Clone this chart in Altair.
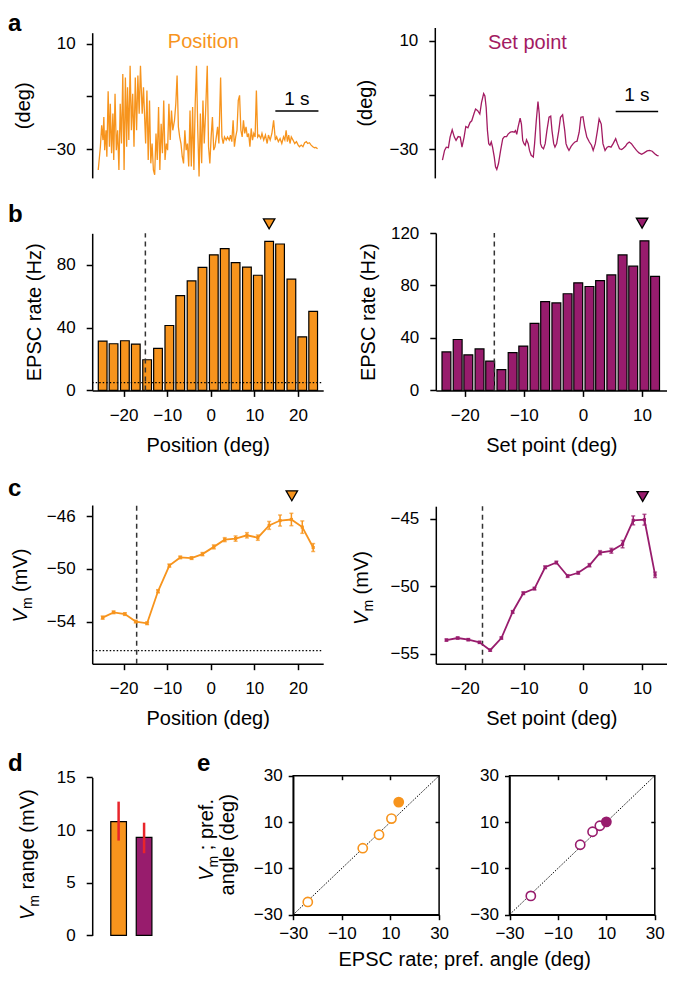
import altair as alt
import pandas as pd

FONT = "Liberation Sans"
ORANGE = "#F7941D"
PURPLE = "#981C6D"
PURPLE_TRACE = "#A31B62"
RED = "#E8252B"
DASH_GREY = "#333333"

# ---------------- (a) whisker traces ----------------
pos_t = [0.00, 0.05, 0.08, 0.11, 0.13, 0.15, 0.18, 0.20, 0.23, 0.26, 0.28, 0.31, 0.34, 0.36, 0.39, 0.42, 0.45, 0.48,
         0.51, 0.54, 0.57, 0.60, 0.63, 0.66, 0.68, 0.71, 0.74, 0.77, 0.80, 0.83, 0.86, 0.89, 0.92, 0.95, 0.98, 1.02,
         1.05, 1.10, 1.13, 1.16, 1.19, 1.22, 1.25, 1.28, 1.31, 1.34, 1.37, 1.40, 1.43, 1.46, 1.49, 1.52, 1.55, 1.58,
         1.61, 1.64, 1.67, 1.70, 1.73, 1.77, 1.80, 1.83, 1.86, 1.89, 1.92, 1.95, 1.98, 2.01, 2.04, 2.07, 2.10, 2.13,
         2.16, 2.19, 2.22, 2.25, 2.28, 2.31, 2.34, 2.37, 2.40, 2.43, 2.46, 2.49, 2.53, 2.56, 2.59, 2.62, 2.65, 2.68,
         2.71, 2.74, 2.77, 2.80, 2.84, 2.87, 2.90, 2.93, 2.97, 3.00, 3.04, 3.07, 3.10, 3.13, 3.16, 3.19, 3.22, 3.25,
         3.28, 3.31, 3.34, 3.37, 3.40, 3.43, 3.46, 3.49, 3.52, 3.55, 3.58, 3.61, 3.64, 3.67, 3.70, 3.73, 3.77, 3.80,
         3.84, 3.88, 3.92, 3.95, 3.99, 4.03, 4.07, 4.11, 4.14, 4.18, 4.22, 4.26, 4.30, 4.33, 4.36, 4.39, 4.42, 4.45,
         4.48, 4.52, 4.56, 4.60, 4.64, 4.67, 4.71, 4.75, 4.79, 4.83, 4.86, 4.90, 4.94, 4.98, 5.02, 5.05, 5.09]
pos_deg = [-37.8, -29.0, -20.9, -26.5, -17.8, -30.3, -22.8, -32.8, -8.0, -29.0, -12.8, -31.5, -16.5, -34.0, -9.0,
           -30.3, -22.8, -37.8, -12.8, -27.8, -1.5, -37.8, -2.8, -29.0, -6.5, -26.5, 1.6, -22.8, -9.0, -29.0, -2.8,
           -22.8, -2.1, -16.5, 1.6, -16.5, -6.5, -27.8, -7.8, -34.0, -11.5, -35.3, -27.8, -37.8, -39.6, -24.0, -34.0,
           -14.0, -37.8, -20.3, -31.5, -11.5, -34.0, -27.8, -30.3, -12.8, -26.5, -15.3, -22.8, -19.0, -12.8, -2.1,
           -21.5, -25.3, -27.8, -32.8, -35.3, -22.8, -30.3, -27.8, -36.5, -15.3, -36.5, -14.0, -37.8, -12.8, 1.6,
           -22.8, -40.3, -16.5, -35.3, -11.5, -27.8, -16.5, 1.6, -29.0, -35.3, -25.3, -17.8, -30.3, -29.0, -25.3,
           -21.5, -27.8, -2.8, -25.3, -27.8, -25.3, -26.5, -25.3, -26.5, -24.6, -27.1, -19.0, -29.0, -25.3, -22.8,
           -11.5, -9.6, -22.8, -25.3, -19.0, -24.0, -21.5, -25.3, -24.0, -29.0, -22.1, -26.5, -24.0, -25.3, -7.8,
           -25.3, -24.6, -25.9, -24.0, -26.5, -24.6, -27.8, -24.6, -26.5, -24.0, -19.0, -26.5, -25.3, -27.1, -25.9,
           -27.8, -25.3, -26.5, -22.8, -27.1, -24.6, -27.8, -25.3, -26.5, -27.8, -27.1, -28.4, -29.0, -28.4, -29.0,
           -27.5, -27.1, -27.8, -27.5, -28.4, -29.0, -29.4, -29.3, -29.8]
sp_t = [0.00, 0.05, 0.09, 0.14, 0.18, 0.23, 0.28, 0.32, 0.37, 0.42, 0.46, 0.51, 0.55, 0.60, 0.65, 0.69, 0.74, 0.78,
        0.83, 0.88, 0.92, 0.97, 1.00, 1.03, 1.06, 1.09, 1.12, 1.15, 1.18, 1.22, 1.25, 1.28, 1.32, 1.37, 1.42, 1.46,
        1.51, 1.55, 1.60, 1.65, 1.69, 1.72, 1.75, 1.78, 1.83, 1.86, 1.89, 1.92, 1.95, 1.98, 2.02, 2.05, 2.09, 2.14,
        2.17, 2.21, 2.25, 2.28, 2.31, 2.34, 2.38, 2.42, 2.46, 2.51, 2.55, 2.58, 2.62, 2.65, 2.69, 2.74, 2.78, 2.83,
        2.88, 2.91, 2.94, 2.98, 3.03, 3.08, 3.12, 3.17, 3.22, 3.26, 3.31, 3.35, 3.40, 3.46, 3.51, 3.55, 3.60, 3.65,
        3.69, 3.74, 3.78, 3.83, 3.88, 3.92, 3.97, 4.02, 4.08, 4.12, 4.17, 4.22, 4.26, 4.31, 4.35, 4.40, 4.45, 4.51,
        4.57, 4.63, 4.69, 4.75, 4.82, 4.88, 4.94, 5.00, 5.05, 5.09]
sp_deg = [-34.0, -30.4, -29.2, -29.4, -25.5, -22.8, -25.5, -26.7, -25.3, -25.5, -29.2, -25.5, -21.6, -22.1, -20.1,
          -19.5, -17.0, -15.2, -15.8, -17.0, -12.8, -9.5, -10.4, -14.6, -23.1, -27.9, -28.5, -27.3, -29.2, -32.8,
          -36.4, -37.4, -35.2, -30.4, -26.1, -25.3, -25.3, -24.3, -23.7, -23.5, -23.7, -23.1, -24.5, -21.9, -18.5,
          -20.7, -26.7, -27.9, -28.5, -26.5, -27.9, -30.4, -32.2, -32.8, -27.9, -19.5, -12.4, -17.0, -27.9, -29.2,
          -29.8, -27.9, -23.1, -18.2, -17.8, -23.1, -27.9, -29.2, -27.9, -23.1, -18.2, -17.3, -23.1, -27.9, -29.2,
          -30.4, -28.9, -27.9, -27.3, -27.0, -23.7, -18.2, -18.0, -21.9, -25.5, -27.3, -28.5, -30.4, -27.9, -23.1,
          -18.8, -20.7, -27.9, -30.4, -29.2, -28.9, -29.2, -27.9, -26.1, -27.9, -29.8, -30.1, -29.6, -28.9, -27.9,
          -27.3, -27.9, -29.2, -30.4, -31.3, -31.8, -31.3, -30.6, -30.4, -30.7, -31.6, -32.2, -32.4]

# ---------------- (b) EPSC rate tuning ----------------
pos_bins = [-24.8, -22.3, -19.7, -17.2, -14.6, -12.1, -9.5, -7.0, -4.4, -1.9, 0.7, 3.2, 5.7, 8.3, 10.8, 13.4,
            15.9, 18.5, 21.0, 23.5]
epsc_pos = [31.4, 29.7, 31.6, 29.5, 19.5, 26.8, 41.3, 60.3, 69.7, 78.3, 86.3, 90.3, 81.3, 78.5, 73.3, 94.9, 93.2,
            70.8, 34.1, 50.3]
sp_bins = [-23.1, -21.2, -19.4, -17.5, -15.7, -13.8, -11.9, -10.1, -8.2, -6.4, -4.5, -2.6, -0.8, 1.1, 2.9, 4.8,
           6.7, 8.5, 10.4, 12.2]
epsc_sp = [29.3, 38.8, 27.1, 31.6, 22.3, 15.8, 28.8, 33.8, 51.1, 67.7, 66.7, 73.7, 82.0, 79.2, 83.7, 88.0, 103.3,
           94.7, 114.0, 87.0]

# ---------------- (c) Vm tuning ----------------
vm_pos = [-53.7, -53.3, -53.43, -54.0, -54.13, -51.7, -49.75, -49.13, -49.18, -48.88, -48.33, -47.78, -47.7,
          -47.45, -47.63, -46.7, -46.33, -46.25, -46.83, -48.38]
vm_pos_err = [0.12, 0.1, 0.1, 0.1, 0.1, 0.12, 0.12, 0.1, 0.1, 0.12, 0.15, 0.15, 0.2, 0.2, 0.2, 0.3, 0.42, 0.47,
              0.47, 0.3]
vm_sp = [-53.98, -53.83, -53.95, -54.15, -54.73, -53.83, -51.9, -50.51, -50.17, -48.59, -48.24, -49.24, -49.0,
         -48.44, -47.51, -47.37, -46.88, -45.12, -45.07, -49.15]
vm_sp_err = [0.08, 0.08, 0.08, 0.08, 0.08, 0.08, 0.1, 0.1, 0.1, 0.1, 0.1, 0.1, 0.1, 0.12, 0.15, 0.18, 0.27, 0.33,
             0.4, 0.2]

# ---------------- (d) Vm range ----------------
d_cond = ["Position", "Set point"]
d_mean = [10.8, 9.3]
d_lo = [9.0, 7.8]
d_hi = [12.7, 10.7]

# ---------------- (e) preferred angles ----------------
e_pos_epsc = [13.4, 10.4, 5.3, -1.4, -24.0]
e_pos_vm = [18.6, 11.5, 4.5, -1.3, -24.5]
e_sp_epsc = [10.0, 7.3, 4.3, -0.8, -21.2]
e_sp_vm = [10.1, 8.4, 5.8, 0.2, -21.9]
e_this_cell = [True, False, False, False, False]

# thresholds
dash_b = -15
dash_c = -17
dot_b = 5
dot_c = -56.2

# ---------------- layout (figure coordinates -> chart pixels) ----------------
W, H = 659, 966
SX, SY = 0.979, 0.988


def cx(rx):
    return round((rx - 2) * SX, 1)


def cy(ry):
    return round((ry - 3) * SY, 1)


# panel boxes: left, right, top, bottom
BOX = {
    "aL": (88, 320, 28, 175), "aR": (438, 667, 22.7, 175),
    "bL": (88, 324, 231, 390), "bR": (439, 675, 230.7, 390),
    "cL": (88, 324, 506, 666.7), "cR": (439, 675, 507.3, 666.7),
    "d": (88, 168, 781.7, 941.7),
    "eL": (293.3, 442.3, 780, 920.7), "eR": (514.3, 662.7, 780, 920.7),
}

TITLE_FS = 20
SUB_FS = 14
# Arial/Liberation Sans advance widths (em) for the title strings
CHAR_W = {" ": 0.278, "(": 0.333, ")": 0.333, "m": 0.833, "V": 0.667, "r": 0.333, "a": 0.556, "n": 0.556,
          "g": 0.556, "e": 0.556, ";": 0.278, "p": 0.556, "f": 0.278, ".": 0.278}


def df1(**cols):
    return pd.DataFrame({k: [v] for k, v in cols.items()})


def xs(box, lo, hi):
    b = BOX[box]
    return alt.Scale(domain=[lo, hi], range=[cx(b[0]), cx(b[1])], nice=False, zero=False)


def ys(box, lo, hi):
    b = BOX[box]
    return alt.Scale(domain=[lo, hi], range=[cy(b[3]), cy(b[2])], nice=False, zero=False)


def yaxis(box, **kw):
    return alt.Axis(orient="left", offset=-cx(BOX[box][0]), **kw)


def xaxis(box, **kw):
    return alt.Axis(orient="bottom", offset=round(cy(BOX[box][3]) - H, 1), **kw)


def text_at(txt, x, y, size, angle=0, align="left", dx=0.0, dy=0.0, weight="normal", style="normal"):
    return alt.Chart(df1(k=0)).mark_text(
        text=txt, font=FONT, fontSize=size, fontWeight=weight, fontStyle=style, align=align,
        baseline="alphabetic", color="black", angle=angle, dx=round(dx, 1), dy=dy
    ).encode(x=alt.value(x), y=alt.value(y))


def letter(ch, rx, ry):
    return text_at(ch, cx(rx), cy(ry), 24, weight="bold")


def vm_title(rest, rx, ry):
    """Rotated axis title: italic V, subscript m, then the rest (leading spaces kept as offset)."""
    w_v = 0.667 * TITLE_FS
    w_m = 0.833 * SUB_FS
    w_r = sum(CHAR_W[c] for c in rest) * TITLE_FS
    lead = (len(rest) - len(rest.lstrip(" "))) * CHAR_W[" "] * TITLE_FS
    start = -(w_v + w_m + w_r) / 2
    x, y = cx(rx), cy(ry)
    return [
        text_at("V", x, y, TITLE_FS, angle=270, dx=start, style="italic"),
        text_at("m", x, y, SUB_FS, angle=270, dx=start + w_v, dy=5),
        text_at(rest.lstrip(" "), x, y, TITLE_FS, angle=270, dx=start + w_v + w_m + lead),
    ]


# ---------------- panel a ----------------
def panel_a(box, t, deg, color, name, name_xy, bar, txt_xy, xdom, ydom):
    ax = yaxis(box, title="(deg)", values=[-30, -10, 10],
               labelExpr="datum.value == -10 ? '' : datum.label", titlePadding=13)
    X = lambda f: alt.X(f, type="quantitative", scale=xs(box, *xdom), axis=None)
    Y = lambda f: alt.Y(f, type="quantitative", scale=ys(box, *ydom), axis=ax)
    trace = alt.Chart(pd.DataFrame({"x": t, "y": deg})).mark_line(
        color=color, strokeWidth=1.3).encode(x=X("x"), y=Y("y"))
    sbar = alt.Chart(df1(x=bar[0], x2=bar[1], y=bar[2])).mark_rule(
        color="black", strokeWidth=1.5).encode(x=X("x"), x2="x2:Q", y=Y("y"))
    stext = alt.Chart(df1(x=txt_xy[0], y=txt_xy[1])).mark_text(
        text="1 s", fontSize=19, align="center", baseline="alphabetic", color="black"
    ).encode(x=X("x"), y=Y("y"))
    label = alt.Chart(df1(x=name_xy[0], y=name_xy[1])).mark_text(
        text=name, fontSize=20, align="center", baseline="alphabetic", color=color
    ).encode(x=X("x"), y=Y("y"))
    return alt.layer(trace, sbar, stext, label)


aL = panel_a("aL", pos_t, pos_deg, ORANGE, "Position", (2.44, 8.25), (4.11, 5.11, -15.5), (4.61, -13.4),
             (-0.14, 5.13), (-40.8, 14.1))
aR = panel_a("aR", sp_t, sp_deg, PURPLE_TRACE, "Set point", (2.0, 7.0), (4.08, 5.08, -16.1), (4.58, -12.4),
             (-0.18, 5.10), (-40.5, 14.8))


# ---------------- panel b ----------------
def panel_b(box, bins, rate, half, color, xtitle, xdom, ydom, yvals, dash, dot, tri):
    xa = xaxis(box, title=xtitle, values=[v for v in [-20, -10, 0, 10, 20] if xdom[0] < v < xdom[1]])
    ya = yaxis(box, title="EPSC rate (Hz)", values=yvals)
    X = lambda f: alt.X(f, type="quantitative", scale=xs(box, *xdom), axis=xa)
    Y = lambda f: alt.Y(f, type="quantitative", scale=ys(box, *ydom), axis=ya)
    bars = alt.Chart(pd.DataFrame({"x": bins, "y": rate})).transform_calculate(
        x0=f"datum.x - {half}", x1=f"datum.x + {half}", y0="0"
    ).mark_bar(fill=color, stroke="black", strokeWidth=1.2).encode(
        x=X("x0"), x2="x1:Q", y=Y("y"), y2="y0:Q")
    layers = [bars]
    if dot is not None:
        layers.append(alt.Chart(df1(x=xdom[0], x2=xdom[1], y=dot)).mark_rule(
            color="black", strokeDash=[1.5, 2], strokeWidth=1.2).encode(x=X("x"), x2="x2:Q", y=Y("y")))
    layers.append(alt.Chart(df1(x=dash, y=ydom[0], y2=ydom[1])).mark_rule(
        color=DASH_GREY, strokeDash=[5, 4], strokeWidth=1.5).encode(x=X("x"), y=Y("y"), y2="y2:Q"))
    layers.append(alt.Chart(df1(x=tri[0], y=tri[1])).mark_point(
        shape="triangle-down", filled=True, fill=color, stroke="black", strokeWidth=1.3,
        size=130, opacity=1).encode(x=X("x"), y=Y("y")))
    return alt.layer(*layers)


bL = panel_b("bL", pos_bins, epsc_pos, 1.0, ORANGE, "Position (deg)", (-27.2, 25.8), (0, 100),
             [0, 40, 80], dash_b, dot_b, (e_pos_epsc[0], 106))
bR = panel_b("bR", sp_bins, epsc_sp, 0.75, PURPLE, "Set point (deg)", (-24.9, 14.2), (0, 120),
             [0, 40, 80, 120], dash_b, None, (e_sp_epsc[0], 127.5))


# ---------------- panel c ----------------
def panel_c(box, bins, vm, err, color, xtitle, xdom, ydom, yvals, dash, dot, tri):
    xa = xaxis(box, title=xtitle, values=[v for v in [-20, -10, 0, 10, 20] if xdom[0] < v < xdom[1]])
    ya = yaxis(box, title=None, values=yvals)
    X = lambda f: alt.X(f, type="quantitative", scale=xs(box, *xdom), axis=xa)
    Y = lambda f: alt.Y(f, type="quantitative", scale=ys(box, *ydom), axis=ya)
    base = alt.Chart(pd.DataFrame({"x": bins, "y": vm, "e": err})).transform_calculate(
        lo="datum.y - datum.e", hi="datum.y + datum.e")
    layers = []
    if dot is not None:
        layers.append(alt.Chart(df1(x=xdom[0], x2=xdom[1], y=dot)).mark_rule(
            color="black", strokeDash=[1.5, 2], strokeWidth=1.2).encode(x=X("x"), x2="x2:Q", y=Y("y")))
    layers.append(alt.Chart(df1(x=dash, y=ydom[0], y2=ydom[1])).mark_rule(
        color=DASH_GREY, strokeDash=[5, 4], strokeWidth=1.5).encode(x=X("x"), y=Y("y"), y2="y2:Q"))
    layers += [
        base.mark_rule(color=color, strokeWidth=1.5).encode(x=X("x"), y=Y("lo"), y2="hi:Q"),
        base.mark_tick(color=color, orient="horizontal", size=4, thickness=1.5).encode(x=X("x"), y=Y("lo")),
        base.mark_tick(color=color, orient="horizontal", size=4, thickness=1.5).encode(x=X("x"), y=Y("hi")),
        base.mark_line(color=color, strokeWidth=1.8).encode(x=X("x"), y=Y("y")),
        base.mark_point(shape="square", filled=True, size=10, opacity=1, color=color).encode(x=X("x"), y=Y("y")),
        alt.Chart(df1(x=tri[0], y=tri[1])).mark_point(
            shape="triangle-down", filled=True, fill=color, stroke="black", strokeWidth=1.3,
            size=130, opacity=1).encode(x=X("x"), y=Y("y")),
    ]
    return alt.layer(*layers)


cL = panel_c("cL", pos_bins, vm_pos, vm_pos_err, ORANGE, "Position (deg)", (-27.2, 25.8),
             (-57.2, -45.15), [-54, -50, -46], dash_c, dot_c, (e_pos_vm[0], -44.45))
cR = panel_c("cR", sp_bins, vm_sp, vm_sp_err, PURPLE, "Set point (deg)", (-24.9, 14.2),
             (-55.73, -44.07), [-55, -50, -45], dash_c, None, (e_sp_vm[0], -43.35))

# ---------------- panel d ----------------
d_df = pd.DataFrame({"c": d_cond, "y": d_mean, "lo": d_lo, "hi": d_hi})
XD = alt.X("c:N", scale=alt.Scale(domain=d_cond, range=[cx(BOX["d"][0]), cx(BOX["d"][1])],
                                  paddingInner=0.385, paddingOuter=0.73), axis=None)
yd_axis = yaxis("d", title=None, values=[0, 5, 10, 15])
YD = lambda f: alt.Y(f, type="quantitative", scale=ys("d", 0, 15), axis=yd_axis)
d_panel = alt.layer(
    alt.Chart(d_df).mark_bar(stroke="black", strokeWidth=1.2).encode(
        x=XD, y=YD("y"),
        color=alt.Color("c:N", scale=alt.Scale(domain=d_cond, range=[ORANGE, PURPLE]), legend=None)),
    alt.Chart(d_df).mark_rule(color=RED, strokeWidth=2.5).encode(x=XD, y=YD("lo"), y2="hi:Q"),
)


# ---------------- panel e ----------------
def panel_e(box, epsc, vm, color, xtitle):
    vals = [-30, -10, 10, 30]
    xkw = dict(values=vals, labelPadding=6, tickSize=5)
    if xtitle:
        xkw.update(title=xtitle, titleX=cx(468), titlePadding=8)
    else:
        xkw.update(title=None)
    ykw = dict(values=vals, labelPadding=6, tickSize=5, title=None)
    X = lambda f: alt.X(f, type="quantitative", scale=xs(box, -30, 30), axis=xaxis(box, **xkw))
    Y = lambda f: alt.Y(f, type="quantitative", scale=ys(box, -30, 30), axis=yaxis(box, **ykw))
    df = pd.DataFrame({"x": epsc, "y": vm, "cell": e_this_cell})
    diag = alt.Chart(pd.DataFrame({"x": [-30, 30], "y": [-30, 30]})).mark_line(
        color="black", strokeDash=[1.5, 1.5], strokeWidth=1).encode(x=X("x"), y=Y("y"))
    frame = alt.Chart(df1(x=-30, x2=30, y=-30, y2=30)).mark_rect(
        filled=False, stroke="black", strokeWidth=1.5).encode(x=X("x"), x2="x2:Q", y=Y("y"), y2="y2:Q")
    open_pts = alt.Chart(df).transform_filter("!datum.cell").mark_point(
        shape="circle", filled=True, fill="white", stroke=color, strokeWidth=1.6, size=85, opacity=1
    ).encode(x=X("x"), y=Y("y"))
    filled_pts = alt.Chart(df).transform_filter("datum.cell").mark_point(
        shape="circle", filled=True, fill=color, stroke=color, strokeWidth=1.6, size=85, opacity=1
    ).encode(x=X("x"), y=Y("y"))
    return alt.layer(diag, frame, open_pts, filled_pts)


def mirror_ticks(box):
    """Inward ticks on the top and right edges of a box panel."""
    b = BOX[box]
    top_axis = alt.Axis(orient="top", offset=-(cy(b[2]) + 4), values=[-10, 10], labels=False, domain=False,
                        tickSize=4, title=None)
    right_axis = alt.Axis(orient="right", offset=round(cx(b[1]) - 4 - W, 1), values=[-10, 10], labels=False,
                          domain=False, tickSize=4, title=None)
    return alt.Chart(df1(x=-30, y=-30)).mark_point(opacity=0).encode(
        x=alt.X("x:Q", scale=xs(box, -30, 30), axis=top_axis),
        y=alt.Y("y:Q", scale=ys(box, -30, 30), axis=right_axis))


eL = panel_e("eL", e_pos_epsc, e_pos_vm, ORANGE, "EPSC rate; pref. angle (deg)")
eR = panel_e("eR", e_sp_epsc, e_sp_vm, PURPLE, None)

annotations = [
    letter("a", 2, 26), letter("b", 2, 220), letter("c", 2, 497), letter("d", 2, 775), letter("e", 195, 775),
    *vm_title(" (mV)", 21, 587.5),
    *vm_title(" (mV)", 370, 590),
    *vm_title(" range (mV)", 28, 860),
    *vm_title(" ; pref.", 211, 845),
    text_at("angle (deg)", cx(232.6), cy(850), TITLE_FS, angle=270, align="center"),
]

chart = alt.layer(aL, aR, bL, bR, cL, cR, d_panel, eL, eR, mirror_ticks("eL"), mirror_ticks("eR"),
                  *annotations).resolve_scale(
    x="independent", y="independent", color="independent"
).properties(
    width=W, height=H, padding=0, background="white",
    autosize=alt.AutoSizeParams(type="none")
).configure_view(stroke=None).configure_axis(
    labelFont=FONT, titleFont=FONT, labelFontSize=17, titleFontSize=TITLE_FS, titleFontWeight="normal",
    labelColor="black", titleColor="black", domainColor="black", tickColor="black",
    domainWidth=1.5, tickWidth=1.5, tickSize=6, labelPadding=11, titlePadding=12,
    grid=False, labelFlush=False, labelOverlap=False
).configure_text(font=FONT)

chart.save("out.html", embed_options={"renderer": "svg", "actions": False})
